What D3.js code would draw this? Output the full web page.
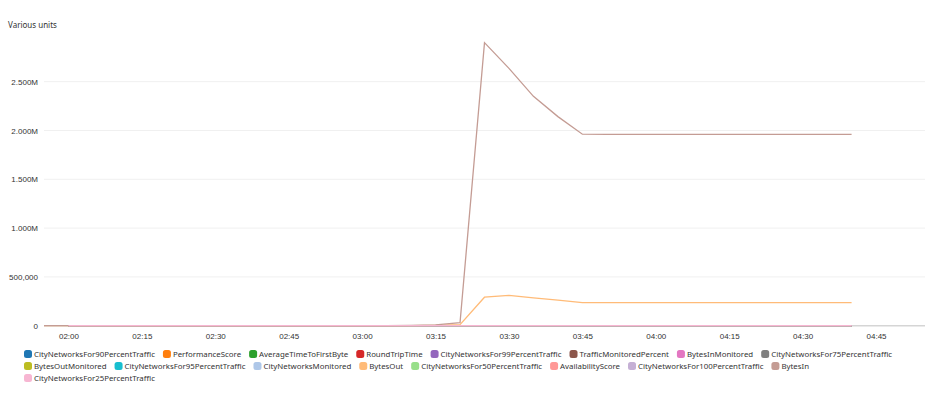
<!DOCTYPE html>
<html>
<head>
<meta charset="utf-8">
<script src="https://cdn.jsdelivr.net/npm/d3@7"></script>
<style>
  body { margin: 0; background: #fff; }
  svg { font-family: "Noto Sans", sans-serif; }
  .tick text { fill: #333; font-size: 8px; }
  .legend text { fill: #333; font-size: 7.85px; }
</style>
</head>
<body>
<div class="chart"></div>
<script>
var width = 936;
var height = 393;

// sample times (5 min) for BytesIn / BytesOut
var times = ["01:55","02:00","02:05","02:10","02:15","02:20","02:25","02:30","02:35","02:40",
             "02:45","02:50","02:55","03:00","03:05","03:10","03:15","03:20","03:25","03:30",
             "03:35","03:40","03:45","03:50","03:55","04:00","04:05","04:10","04:15","04:20",
             "04:25","04:30","04:35","04:40"];

var bytesIn = [0,0,0,0,0,0,0,0,0,0,
               0,0,0,0,1000,3000,9000,30000,2900000,2636000,
               2350000,2142000,1962000,1961000,1961000,1961000,1961000,1961000,1961000,1961000,
               1961000,1961000,1961000,1961000];

var bytesOut = [0,0,0,0,0,0,0,0,0,0,
                0,0,0,0,500,1500,4000,10000,292000,310000,
                286000,261000,237000,236000,236000,236000,236000,236000,236000,236000,
                236000,236000,236000,236000];

// legend / draw order
var seriesNames = ["CityNetworksFor90PercentTraffic","PerformanceScore","AverageTimeToFirstByte","RoundTripTime",
  "CityNetworksFor99PercentTraffic","TrafficMonitoredPercent","BytesInMonitored","CityNetworksFor75PercentTraffic",
  "BytesOutMonitored","CityNetworksFor95PercentTraffic","CityNetworksMonitored","BytesOut",
  "CityNetworksFor50PercentTraffic","AvailabilityScore","CityNetworksFor100PercentTraffic","BytesIn",
  "CityNetworksFor25PercentTraffic"];

var seriesColors = ["#1f77b4","#ff7f0e","#2ca02c","#d62728","#9467bd","#8c564b","#e377c2","#7f7f7f",
  "#bcbd22","#17becf","#aec7e8","#ffbb78","#98df8a","#ff9896","#c5b0d5","#c49c94","#f7b6d2"];

// the small series all sit on the zero line at this scale (02:00 - 04:40)
var minorTimes = ["02:00","04:40"];
var minorLevels = [4, 100, 60, 25, 9, 100, 80, 3, 70, 6, 12, null, 2, 100, 10, null, 1];

var yTicks = [0, 500000, 1000000, 1500000, 2000000, 2500000];
var xTicks = ["02:00","02:15","02:30","02:45","03:00","03:15","03:30","03:45","04:00","04:15","04:30","04:45"];

var parseTime = d3.timeParse("%H:%M");

var svg = d3.select(".chart").append("svg")
    .attr("width", width)
    .attr("height", height);

var x = d3.scaleTime()
    .domain([parseTime("01:55"), parseTime("04:55")])
    .range([44, 925]);

var y = d3.scaleLinear()
    .domain([0, 2968000])
    .range([325.7, 36]);

var fmt = function(v) {
  if (v >= 1000000) return (v / 1000000).toFixed(3) + "M";
  return d3.format(",")(v);
};

svg.append("text")
    .attr("x", 8)
    .attr("y", 28)
    .attr("fill", "#333")
    .style("font-size", "8px")
    .text("Various units");

// grid + y labels
var yAxis = svg.append("g")
    .attr("transform", "translate(44,0)")
    .call(d3.axisLeft(y).tickValues(yTicks).tickFormat(fmt).tickSize(0).tickPadding(6));
yAxis.select(".domain").remove();

svg.append("g").selectAll("line")
    .data(yTicks)
    .enter().append("line")
    .attr("x1", 44).attr("x2", 925)
    .attr("y1", function(d) { return y(d); })
    .attr("y2", function(d) { return y(d); })
    .attr("stroke", function(d) { return d === 0 ? "#d5d5d5" : "#f0f0f0"; })
    .attr("stroke-width", function(d) { return d === 0 ? 1.5 : 1; });

var xAxis = svg.append("g")
    .attr("transform", "translate(0,327)")
    .call(d3.axisBottom(x)
      .tickValues(xTicks.map(parseTime))
      .tickFormat(d3.timeFormat("%H:%M"))
      .tickSize(0).tickPadding(6));
xAxis.select(".domain").remove();

var line = d3.line()
    .x(function(d) { return x(d.t); })
    .y(function(d) { return y(d.v); });

var lines = svg.append("g").attr("fill", "none").attr("stroke-width", 1.3);

seriesNames.forEach(function(name, i) {
  var pts;
  if (name === "BytesIn" || name === "BytesOut") {
    var vals = name === "BytesIn" ? bytesIn : bytesOut;
    pts = times.map(function(t, j) { return {t: parseTime(t), v: vals[j]}; });
  } else {
    pts = minorTimes.map(function(t) { return {t: parseTime(t), v: minorLevels[i]}; });
  }
  lines.append("path")
      .datum(pts)
      .attr("stroke", seriesColors[i])
      .attr("d", line);
});

// legend, flowing rows
var legend = svg.append("g").attr("class", "legend");
var lx = 24, ly = 354;
seriesNames.forEach(function(name, i) {
  var g = legend.append("g");
  var txt = g.append("text").attr("x", 10).attr("y", 3).text(name);
  var w = 10 + txt.node().getComputedTextLength();
  if (lx + w > 930) { lx = 24; ly += 12; }
  g.attr("transform", "translate(" + lx + "," + ly + ")");
  g.append("rect")
      .attr("x", 0).attr("y", -4)
      .attr("width", 8).attr("height", 8)
      .attr("rx", 2.5)
      .attr("fill", seriesColors[i]);
  lx += w + 8;
});
</script>
</body>
</html>
